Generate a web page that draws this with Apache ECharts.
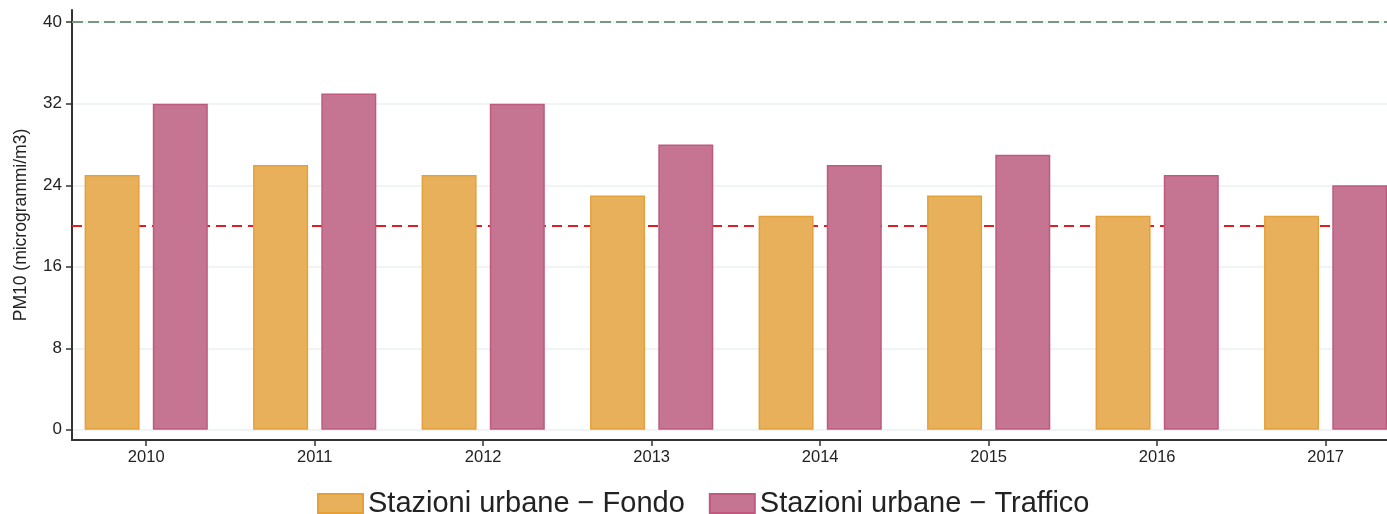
<!DOCTYPE html>
<html>
<head>
<meta charset="utf-8">
<script src="https://cdn.jsdelivr.net/npm/echarts@6/dist/echarts.min.js"></script>
<style>
html,body{margin:0;padding:0;background:#fff;}
#chart{width:1387px;height:514px;}
</style>
</head>
<body>
<div id="chart"></div>
<script>
const years = ['2010','2011','2012','2013','2014','2015','2016','2017'];
const fondo = [25, 26, 25, 23, 21, 23, 21, 21];
const traffico = [32, 33, 32, 28, 26, 27, 25, 24];
const yTicks = [0, 8, 16, 24, 32, 40];
const limitEU = 40;
const limitWHO = 20;
const seriesNames = ['Stazioni urbane \u2212 Fondo', 'Stazioni urbane \u2212 Traffico'];

const FONT = '"Liberation Sans", Arial, sans-serif';
const xIdx = years.map((y, i) => i);

const chart = echarts.init(document.getElementById('chart'), null, {renderer: 'canvas'});
chart.setOption({
  animation: false,
  backgroundColor: '#ffffff',
  textStyle: {fontFamily: FONT},
  grid: {left: 72, right: 0, top: 10, bottom: 74, containLabel: false, outerBoundsMode: 'none'},
  legend: {
    data: seriesNames,
    icon: 'rect',
    left: 312, top: 484,
    itemWidth: 45, itemHeight: 19, itemGap: 24,
    textStyle: {fontSize: 29, color: '#222', fontFamily: FONT},
    selectedMode: false
  },
  xAxis: {
    type: 'value',
    min: -0.4404, max: 7.364,
    axisLine: {onZero: false, lineStyle: {color: '#333', width: 2}},
    axisTick: {customValues: xIdx, length: 6, lineStyle: {color: '#333', width: 1.5}},
    axisLabel: {customValues: xIdx, formatter: v => years[v], fontSize: 16.5, color: '#222', margin: 9, fontFamily: FONT},
    splitLine: {show: false}
  },
  yAxis: {
    type: 'value',
    min: -1, max: 41.2,
    name: 'PM10 (microgrammi/m3)',
    nameLocation: 'middle', nameGap: 42, nameRotate: 90,
    nameTextStyle: {fontSize: 17.5, color: '#222', fontFamily: FONT},
    axisLine: {show: true, onZero: false, lineStyle: {color: '#333', width: 2}},
    axisTick: {show: true, customValues: yTicks, length: 6, lineStyle: {color: '#333', width: 1.5}},
    axisLabel: {customValues: yTicks, fontSize: 17, color: '#222', margin: 10, fontFamily: FONT},
    splitLine: {show: true, lineStyle: {color: '#edf0f5', width: 1.5}}
  },
  series: [
    {
      name: seriesNames[0], type: 'bar',
      data: fondo.map((v, i) => [i, v]),
      barWidth: 55, barGap: '24%', z: 2,
      itemStyle: {color: '#e8b05a', borderColor: '#e5a03a', borderWidth: 1.5},
      markLine: {
        silent: true, symbol: 'none', z: 1,
        label: {show: false},
        data: [
          {yAxis: limitEU, lineStyle: {color: '#759a7c', width: 2, type: [11, 5]}},
          {yAxis: limitWHO, lineStyle: {color: '#e31b26', width: 2, type: [10, 6]}}
        ]
      }
    },
    {
      name: seriesNames[1], type: 'bar',
      data: traffico.map((v, i) => [i, v]),
      barWidth: 55, barGap: '24%', z: 2,
      itemStyle: {color: '#c57592', borderColor: '#bf5a7e', borderWidth: 1.5}
    }
  ]
});
</script>
</body>
</html>
